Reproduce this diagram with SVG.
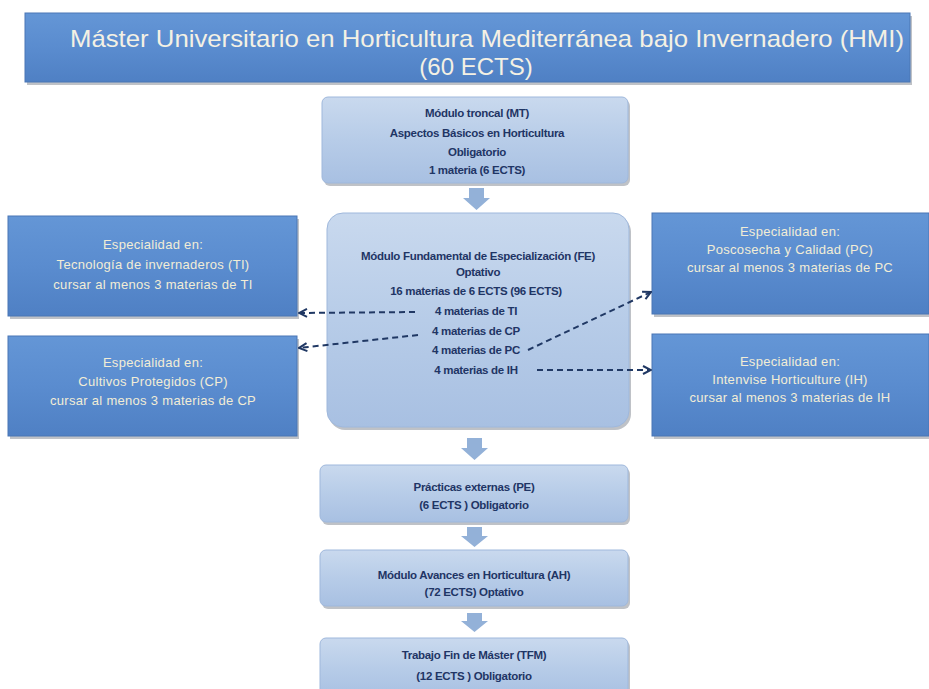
<svg xmlns="http://www.w3.org/2000/svg" width="929" height="689" viewBox="0 0 929 689">
<defs>
<linearGradient id="gBlue" x1="0" y1="0" x2="0" y2="1">
<stop offset="0" stop-color="#6496d6"/>
<stop offset="0.5" stop-color="#5a8ccf"/>
<stop offset="1" stop-color="#4f80c4"/>
</linearGradient>
<linearGradient id="gLight" x1="0" y1="0" x2="0" y2="1">
<stop offset="0" stop-color="#c9d9ee"/>
<stop offset="0.5" stop-color="#b7cce8"/>
<stop offset="1" stop-color="#a8c0e2"/>
</linearGradient>
<marker id="arr" viewBox="0 0 10 10" refX="9" refY="5" markerWidth="10" markerHeight="10" markerUnits="userSpaceOnUse" orient="auto">
<path d="M1,1 L9,5 L1,9" fill="none" stroke="#203864" stroke-width="2"/>
</marker>
</defs>
<style>
.shadow{fill:#8a8f99;opacity:0.55}
.dark{fill:url(#gBlue);stroke:#4a76b5;stroke-width:1}
.light{fill:url(#gLight);stroke:#9fb8dc;stroke-width:1}
.title{font-family:"Liberation Sans",Arial,sans-serif;font-size:24px;fill:#f4f1e4;text-anchor:middle}
.spec{font-family:"Liberation Sans",Arial,sans-serif;font-size:13px;fill:#f2edd6;text-anchor:middle;letter-spacing:0.3px}
.mod{font-family:"Liberation Sans",Arial,sans-serif;font-size:11.5px;font-weight:bold;fill:#1f3565;text-anchor:middle;letter-spacing:-0.3px}
.blk{fill:#93b1d8}
.dash{fill:none;stroke:#203864;stroke-width:2;stroke-dasharray:6,4;marker-end:url(#arr)}
</style>
<rect width="929" height="689" fill="#ffffff"/>

<g id="title">
<rect class="shadow" x="27" y="16" width="885" height="69"/>
<rect class="dark" x="25" y="13" width="885" height="69"/>
<text class="title" x="487" y="47" textLength="834" lengthAdjust="spacingAndGlyphs">Máster Universitario en Horticultura Mediterránea bajo Invernadero (HMI)</text>
<text class="title" x="476" y="75">(60 ECTS)</text>
</g>

<g id="mt">
<rect class="shadow" x="324" y="100" width="306" height="86" rx="6"/>
<rect class="light" x="322" y="97" width="306" height="86" rx="6"/>
<text class="mod" x="477" y="117">Módulo troncal (MT)</text>
<text class="mod" x="477" y="137">Aspectos Básicos en Horticultura</text>
<text class="mod" x="477" y="156">Obligatorio</text>
<text class="mod" x="477" y="174">1 materia (6 ECTS)</text>
</g>

<g id="fe">
<rect class="shadow" x="329" y="216" width="302" height="214" rx="16"/>
<rect class="light" x="327" y="213" width="302" height="214" rx="16"/>
<text class="mod" x="478" y="260">Módulo Fundamental de Especialización (FE)</text>
<text class="mod" x="478" y="276">Optativo</text>
<text class="mod" x="476" y="295">16 materias de 6 ECTS (96 ECTS)</text>
<text class="mod" x="476" y="315">4 materias de  TI</text>
<text class="mod" x="476" y="335">4 materias de CP</text>
<text class="mod" x="476" y="354">4 materias de PC</text>
<text class="mod" x="476" y="374">4 materias de IH</text>
</g>

<g id="ti">
<rect class="shadow" x="10" y="219" width="289" height="100"/>
<rect class="dark" x="8" y="216" width="289" height="100"/>
<text class="spec" x="153" y="249">Especialidad en:</text>
<text class="spec" x="153" y="269">Tecnología de invernaderos (TI)</text>
<text class="spec" x="153" y="289">cursar al menos 3 materias de TI</text>
</g>

<g id="cp">
<rect class="shadow" x="10" y="339" width="289" height="100"/>
<rect class="dark" x="8" y="336" width="289" height="100"/>
<text class="spec" x="153" y="367">Especialidad en:</text>
<text class="spec" x="153" y="386">Cultivos Protegidos (CP)</text>
<text class="spec" x="153" y="405">cursar al menos 3 materias de CP</text>
</g>

<g id="pc">
<rect class="shadow" x="654" y="216" width="277" height="101"/>
<rect class="dark" x="652" y="213" width="277" height="101"/>
<text class="spec" x="790" y="236">Especialidad en:</text>
<text class="spec" x="790" y="254">Poscosecha y Calidad (PC)</text>
<text class="spec" x="790" y="272">cursar al menos 3 materias de PC</text>
</g>

<g id="ih">
<rect class="shadow" x="654" y="337" width="277" height="102"/>
<rect class="dark" x="652" y="334" width="277" height="102"/>
<text class="spec" x="790" y="366">Especialidad en:</text>
<text class="spec" x="790" y="384">Intenvise Horticulture (IH)</text>
<text class="spec" x="790" y="402">cursar al menos 3 materias de IH</text>
</g>

<g id="pe">
<rect class="shadow" x="322" y="468" width="308" height="57" rx="6"/>
<rect class="light" x="320" y="465" width="308" height="57" rx="6"/>
<text class="mod" x="474" y="491">Prácticas externas (PE)</text>
<text class="mod" x="474" y="509">(6 ECTS )  Obligatorio</text>
</g>

<g id="ah">
<rect class="shadow" x="322" y="553" width="308" height="56" rx="6"/>
<rect class="light" x="320" y="550" width="308" height="56" rx="6"/>
<text class="mod" x="474" y="579">Módulo Avances en Horticultura (AH)</text>
<text class="mod" x="474" y="596">(72 ECTS) Optativo</text>
</g>

<g id="tfm">
<rect class="shadow" x="322" y="641" width="308" height="60" rx="6"/>
<rect class="light" x="320" y="638" width="308" height="60" rx="6"/>
<text class="mod" x="474" y="659">Trabajo Fin de Máster (TFM)</text>
<text class="mod" x="474" y="680">(12 ECTS ) Obligatorio</text>
</g>

<g id="connectors">
<path class="blk" d="M469,188 H484 V198 H490 L476.5,210 L463,198 H469 Z"/>
<path class="blk" d="M467,438 H482 V448 H488 L474.5,460 L461,448 H467 Z"/>
<path class="blk" d="M467,527 H482 V536 H488 L474.5,547 L461,536 H467 Z"/>
<path class="blk" d="M467,613 H482 V621 H488 L474.5,632 L461,621 H467 Z"/>
<line class="dash" x1="415" y1="312" x2="299" y2="313"/>
<line class="dash" x1="418" y1="335" x2="299" y2="348"/>
<line class="dash" x1="528" y1="350" x2="651" y2="292"/>
<line class="dash" x1="537" y1="370" x2="651" y2="370"/>
</g>
</svg>
